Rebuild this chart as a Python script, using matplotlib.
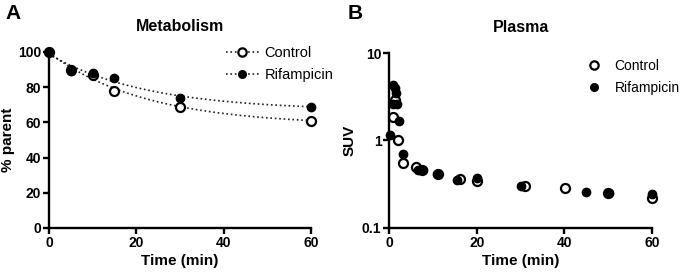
import matplotlib
matplotlib.use("Agg")
import matplotlib.pyplot as plt
import numpy as np
from matplotlib.lines import Line2D
from matplotlib.ticker import FixedLocator, NullLocator

plt.rcParams['font.family'] = ['Liberation Sans', 'DejaVu Sans']

# panel A: metabolism (% parent)
met_time = [0, 5, 10, 15, 30, 60]
met_control = [100, 89.5, 87, 78, 69, 61]
met_rif = [100, 89, 88, 85, 74, 69]

# panel B: plasma SUV
ctrl_time = [1.0, 1.4, 2.1, 3.1, 6.2, 7.5, 11.1, 16.1, 20.0, 31.1, 40.1, 50.0, 60.0]
ctrl_suv = [1.85, 2.9, 1.02, 0.55, 0.50, 0.46, 0.41, 0.36, 0.34, 0.30, 0.29, 0.25, 0.22]
rif_time = [0.25, 1.0, 1.0, 1.4, 1.6, 1.75, 2.3, 3.1, 6.7, 7.8, 10.9, 15.5, 20.0, 30.2, 45.0, 50.1, 60.0]
rif_suv = [1.15, 4.3, 2.6, 4.0, 3.5, 2.6, 1.65, 0.70, 0.46, 0.46, 0.41, 0.35, 0.37, 0.30, 0.255, 0.25, 0.245]


def fit_decay(t, y):
    # one-phase decay: y = P + (Y0 - P) exp(-k t), linear in (P, Y0) for fixed k
    t = np.asarray(t, float)
    y = np.asarray(y, float)
    best = None
    for k in np.linspace(0.001, 0.5, 2000):
        e = np.exp(-k * t)
        A = np.column_stack([1 - e, e])
        coef, *_ = np.linalg.lstsq(A, y, rcond=None)
        err = np.sum((A @ coef - y) ** 2)
        if best is None or err < best[0]:
            best = (err, k, coef)
    _, k, (p, y0) = best
    return lambda x: p + (y0 - p) * np.exp(-k * x)


def style_axes(ax):
    for s in ['top', 'right']:
        ax.spines[s].set_visible(False)
    for s in ['left', 'bottom']:
        ax.spines[s].set_linewidth(1.7)
    ax.tick_params(width=1.7, length=4, labelsize=10, pad=1.5)
    for lab in ax.get_xticklabels() + ax.get_yticklabels():
        lab.set_fontweight('bold')


fig = plt.figure(figsize=(6.85, 2.72), dpi=100)

# ---- A ----
axA = fig.add_axes([0.0715, 0.162, 0.3825, 0.647])
xs = np.linspace(0, 60, 300)
axA.plot(xs, fit_decay(met_time, met_control)(xs), ':', color='#222222', lw=1.2, zorder=1)
axA.plot(xs, fit_decay(met_time, met_rif)(xs), ':', color='#222222', lw=1.2, zorder=1)
axA.plot(met_time, met_control, 'o', ms=6.5, mfc='white', mec='black', mew=1.6, ls='none', zorder=2, clip_on=False)
axA.plot(met_time, met_rif, 'o', ms=6, mfc='black', mec='black', ls='none', zorder=3, clip_on=False)
axA.set_xlim(0, 60)
axA.set_ylim(0, 100)
axA.set_xticks([0, 20, 40, 60])
axA.set_yticks([0, 20, 40, 60, 80, 100])
style_axes(axA)
axA.set_xlabel('Time (min)', fontsize=11, fontweight='bold', labelpad=3)
axA.set_ylabel('% parent', fontsize=11, fontweight='bold', labelpad=2)
axA.set_title('Metabolism', fontsize=11.5, fontweight='bold', pad=15)
hA = [Line2D([], [], ls=':', color='#222222', lw=1.2, marker='o', ms=6, mfc='white', mec='black', mew=1.6),
      Line2D([], [], ls=':', color='#222222', lw=1.2, marker='o', ms=5.5, mfc='black', mec='black')]
axA.legend(hA, ['Control', 'Rifampicin'], loc='upper left', bbox_to_anchor=(0.655, 1.065), frameon=False,
           fontsize=10.5, handlelength=2.2, handletextpad=0.4, labelspacing=0.5, borderaxespad=0)
fig.text(0.008, 0.985, 'A', fontsize=15, fontweight='bold', va='top', ha='left')

# ---- B ----
axB = fig.add_axes([0.568, 0.162, 0.384, 0.643])
axB.plot(ctrl_time, ctrl_suv, 'o', ms=6.5, mfc='white', mec='black', mew=1.6, ls='none', zorder=2, clip_on=False)
axB.plot(rif_time, rif_suv, 'o', ms=6, mfc='black', mec='black', ls='none', zorder=3, clip_on=False)
axB.set_yscale('log')
axB.set_xlim(0, 60)
axB.set_ylim(0.1, 10)
axB.set_xticks([0, 20, 40, 60])
axB.yaxis.set_major_locator(FixedLocator([0.1, 1, 10]))
axB.yaxis.set_minor_locator(NullLocator())
axB.set_yticklabels(['0.1', '1', '10'])
style_axes(axB)
axB.set_xlabel('Time (min)', fontsize=11, fontweight='bold', labelpad=3)
axB.set_ylabel('SUV', fontsize=11, fontweight='bold', labelpad=4)
axB.set_title('Plasma', fontsize=11.5, fontweight='bold', pad=15)
hB = [Line2D([], [], ls='none', marker='o', ms=6, mfc='white', mec='black', mew=1.6),
      Line2D([], [], ls='none', marker='o', ms=5.5, mfc='black', mec='black')]
axB.legend(hB, ['Control', 'Rifampicin'], loc='upper left', bbox_to_anchor=(0.72, 1.0), frameon=False,
           fontsize=10, handlelength=1.5, handletextpad=0.7, labelspacing=0.6, borderaxespad=0)
fig.text(0.508, 0.985, 'B', fontsize=15, fontweight='bold', va='top', ha='left')

fig.savefig('out.png', dpi=100)
